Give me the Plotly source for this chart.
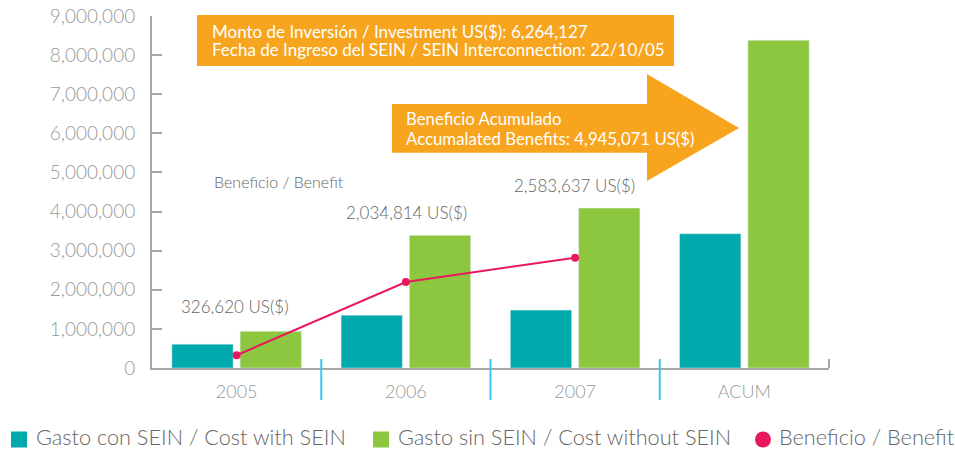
import plotly.graph_objects as go

# ---------------- data ----------------
categories = ["2005", "2006", "2007", "ACUM"]
cost_with_sein = [610000, 1350000, 1480000, 3435000]
cost_without_sein = [938000, 3393000, 4090000, 8380000]
benefit_categories = ["2005", "2006", "2007"]
benefit_values = [326620, 2200000, 2820000]
benefit_labels = ["326,620 US($)", "2,034,814 US($)", "2,583,637 US($)"]
y_tick_values = [0, 1000000, 2000000, 3000000, 4000000, 5000000, 6000000, 7000000, 8000000, 9000000]

series_names = [
    "Gasto con SEIN / Cost with SEIN",
    "Gasto sin SEIN / Cost without SEIN",
    "Beneficio / Benefit",
]
box_lines = [
    "Monto de Inversión / Investment US($): 6,264,127",
    "Fecha de Ingreso del SEIN / SEIN Interconnection: 22/10/05",
]
arrow_lines = [
    "Beneficio Acumulado",
    "Accumalated Benefits: 4,945,071 US($)",
]
benefit_title = "Beneficio / Benefit"

# ---------------- style ----------------
TEAL = "#00A9AC"
GREEN = "#8DC63F"
PINK = "#E8185F"
ORANGE = "#F7A51E"
AXIS = "#A6A6A6"
SEP = "#3CC6EE"
FONT = "Lato"

W, H = 955, 450
L, R, T, B = 152, 126, 16, 82
PW, PH = W - L - R, H - T - B


def px(x):
    return (x - L) / PW


def py(y):
    return (H - B - y) / PH


fig = go.Figure()
fig.add_trace(go.Bar(x=categories, y=cost_with_sein, marker_color=TEAL,
                     name=series_names[0], showlegend=False))
fig.add_trace(go.Bar(x=categories, y=cost_without_sein, marker_color=GREEN,
                     name=series_names[1], showlegend=False))
fig.add_trace(go.Scatter(x=benefit_categories, y=benefit_values, mode="lines+markers",
                         line=dict(color=PINK, width=2), marker=dict(color=PINK, size=8),
                         name=series_names[2], showlegend=False))

shapes = []
# orange info box
shapes.append(dict(type="rect", xref="paper", yref="paper", x0=px(197), x1=px(674),
                   y0=py(66), y1=py(15), fillcolor=ORANGE, line=dict(width=0), layer="above"))
# arrow
pts = [(392, 104), (647, 104), (647, 74), (739, 128), (647, 181), (647, 152.7), (392, 152.7)]
path = "M " + " L ".join(f"{px(a):.5f},{py(b):.5f}" for a, b in pts) + " Z"
shapes.append(dict(type="path", xref="paper", yref="paper", path=path,
                   fillcolor=ORANGE, line=dict(width=0), layer="above"))
# separators between categories
for i in range(len(categories) - 1):
    shapes.append(dict(type="line", xref="x", yref="paper", x0=i + 0.5, x1=i + 0.5,
                       y0=py(359), y1=py(400), line=dict(color=SEP, width=2)))
# right end tick of x axis
shapes.append(dict(type="line", xref="paper", yref="paper", x0=1, x1=1,
                   y0=0, y1=py(359), line=dict(color=AXIS, width=2)))

ann = []
for txt, yy in zip(box_lines, [31.5, 49.5]):
    ann.append(dict(text=txt, xref="paper", yref="paper", x=px(211), y=py(yy),
                    xanchor="left", yanchor="middle", showarrow=False, borderpad=0,
                    font=dict(family=FONT, size=17, color="white")))
for txt, yy in zip(arrow_lines, [118.5, 138.5]):
    ann.append(dict(text=txt, xref="paper", yref="paper", x=px(405), y=py(yy),
                    xanchor="left", yanchor="middle", showarrow=False, borderpad=0,
                    font=dict(family=FONT, size=16.8, color="white")))
label_pos = [(234.5, 306.5), (406, 213), (574.5, 185.7)]
for txt, (xx, yy) in zip(benefit_labels, label_pos):
    ann.append(dict(text=txt, xref="paper", yref="paper", x=px(xx), y=py(yy),
                    xanchor="center", yanchor="middle", showarrow=False,
                    font=dict(family=FONT, size=17, color="#666666", weight=300)))
ann.append(dict(text=benefit_title, xref="paper", yref="paper", x=px(212), y=py(181.5),
                xanchor="left", yanchor="middle", showarrow=False,
                font=dict(family=FONT, size=16, color="#666666", weight=300)))

# legend (drawn manually for exact placement)
leg_sym_x = [11, 373, 755]
leg_text_x = [35, 397, 778]
leg_cols = [TEAL, GREEN, PINK]
leg_y0, leg_y1 = 431.5, 447.5
for i, (sx, tx, col, nm) in enumerate(zip(leg_sym_x, leg_text_x, leg_cols, series_names)):
    shapes.append(dict(type="circle" if i == 2 else "rect", xref="paper", yref="paper",
                       x0=px(sx), x1=px(sx + 16), y0=py(leg_y1), y1=py(leg_y0),
                       fillcolor=col, line=dict(width=0)))
    ann.append(dict(text=nm, xref="paper", yref="paper", x=px(tx), y=py(437),
                    xanchor="left", yanchor="middle", showarrow=False, borderpad=0,
                    font=dict(family=FONT, size=21.7, color="#666666", weight=300)))

fig.update_layout(
    width=W, height=H,
    margin=dict(l=L, r=R, t=T, b=B, autoexpand=False),
    paper_bgcolor="white", plot_bgcolor="white",
    barmode="group", bargap=0.193, bargroupgap=0.1025,
    font=dict(family=FONT),
    showlegend=False,
    shapes=shapes, annotations=ann,
    xaxis=dict(type="category", range=[-0.5, 3.5], showline=True, linecolor=AXIS, linewidth=2,
               ticks="", showgrid=False, zeroline=False, ticklabelstandoff=6, automargin=False,
               tickfont=dict(family=FONT, size=18, color="#999999", weight=300)),
    yaxis=dict(range=[0, 9000000], tickvals=y_tick_values, tickformat=",",
               showline=True, linecolor=AXIS, linewidth=2, ticks="inside", ticklen=10,
               tickwidth=2, tickcolor=AXIS, showgrid=False, zeroline=False,
               ticklabelstandoff=11, automargin=False,
               tickfont=dict(family=FONT, size=19, color="#999999", weight=300)),
)

fig.write_html("out.html", config={"displayModeBar": False},
               post_script="document.body.style.margin='0';")
